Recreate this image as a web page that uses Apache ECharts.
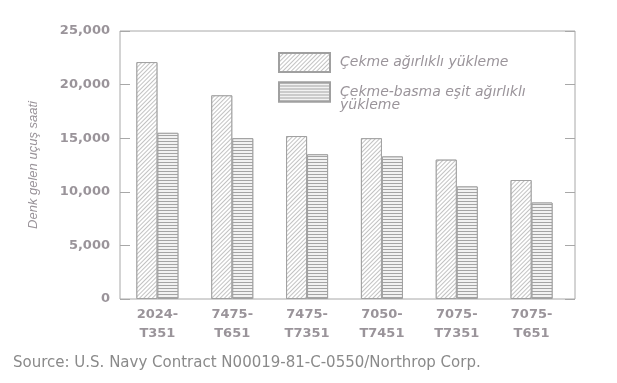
<!DOCTYPE html>
<html>
<head>
<meta charset="utf-8">
<script src="https://cdn.jsdelivr.net/npm/echarts@6/dist/echarts.min.js"></script>
<style>html,body{margin:0;padding:0;background:#fff;}#c{width:617px;height:383px;}</style>
</head>
<body>
<div id="c"></div>
<script>
const categories = ['2024-\nT351', '7475-\nT651', '7475-\nT7351', '7050-\nT7451', '7075-\nT7351', '7075-\nT651'];
const seriesNames = ['Çekme ağırlıklı yükleme', 'Çekme-basma eşit ağırlıklı\nyükleme'];
const tensionValues = [22100, 19000, 15200, 15000, 13000, 11100];
const equalValues = [15500, 15000, 13500, 13300, 10500, 9000];
const yTicks = { min: 0, max: 25000, interval: 5000 };
const yAxisName = 'Denk gelen uçuş saati';
const sourceText = 'Source: U.S. Navy Contract N00019-81-C-0550/Northrop Corp.';

const textGray = '#9a949a';
const lineGray = '#a8a8a8';
const font = 'DejaVu Sans, Liberation Sans, sans-serif';

const chart = echarts.init(document.getElementById('c'), null, { renderer: 'canvas' });

const hatchDecal = {
  symbol: 'rect', symbolSize: 1, color: '#c2c2c2', backgroundColor: '#ffffff',
  dashArrayX: [1, 0], dashArrayY: [1, 2], rotation: -Math.PI / 4
};
const lineDecal = {
  symbol: 'rect', symbolSize: 1, color: '#a4a4a4', backgroundColor: '#f2f2f2',
  dashArrayX: [1, 0], dashArrayY: [1, 2], rotation: 0
};

chart.setOption({
  animation: false,
  backgroundColor: '#ffffff',
  title: {
    text: sourceText, left: 8, top: 351,
    textStyle: { fontFamily: font, fontSize: 15, fontWeight: 'normal', color: '#8a8a8a' }
  },
  legend: {
    orient: 'vertical', left: 273, top: 47, itemWidth: 51, itemHeight: 19, itemGap: -1,
    icon: 'rect',
    formatter: name => (name === seriesNames[1] ? '\n' + name : name),
    textStyle: { fontFamily: font, fontSize: 14, fontStyle: 'italic', color: textGray, lineHeight: 13, padding: [0, 0, 0, 5] },
    data: seriesNames
  },
  grid: [
    { left: 120, right: 42, top: 31, bottom: 84, show: true, borderColor: lineGray, borderWidth: 1, backgroundColor: 'transparent' },
    { left: 120, right: 48, top: 31, bottom: 84 }
  ],
  xAxis: [
    { gridIndex: 0, type: 'value', show: false, min: 0, max: 1 },
    {
      gridIndex: 1, type: 'category', data: categories,
      axisLine: { show: false }, axisTick: { show: false },
      axisLabel: { fontFamily: font, fontSize: 13, fontWeight: 'bold', color: textGray, lineHeight: 19, margin: 6 }
    }
  ],
  yAxis: [
    {
      gridIndex: 0, type: 'value', min: yTicks.min, max: yTicks.max, interval: yTicks.interval,
      name: yAxisName, nameLocation: 'middle', nameGap: 80, nameRotate: 90,
      nameTextStyle: { fontFamily: 'Liberation Sans, Arial, sans-serif', fontSize: 13, fontStyle: 'italic', color: textGray },
      axisLine: { show: false },
      axisTick: { show: true, inside: true, length: 10, lineStyle: { color: lineGray } },
      splitLine: { show: false },
      axisLabel: {
        fontFamily: font, fontSize: 13, fontWeight: 'bold', color: textGray, margin: 10,
        formatter: v => v.toLocaleString('en-US')
      }
    },
    {
      gridIndex: 0, type: 'value', position: 'right', min: yTicks.min, max: yTicks.max, interval: yTicks.interval,
      axisLine: { show: false },
      axisTick: { show: true, inside: true, length: 10, lineStyle: { color: lineGray } },
      splitLine: { show: false }, axisLabel: { show: false }
    },
    {
      gridIndex: 1, type: 'value', min: yTicks.min, max: yTicks.max, interval: yTicks.interval, show: false,
      splitLine: { show: false }
    }
  ],
  series: [
    {
      name: seriesNames[0], type: 'bar', xAxisIndex: 1, yAxisIndex: 2, data: tensionValues,
      barWidth: 21, barGap: '0%',
      itemStyle: { color: '#ffffff', borderColor: '#a0a0a0', borderWidth: 1, decal: hatchDecal }
    },
    {
      name: seriesNames[1], type: 'bar', xAxisIndex: 1, yAxisIndex: 2, data: equalValues,
      barWidth: 21, barGap: '0%',
      itemStyle: { color: '#f2f2f2', borderColor: '#a0a0a0', borderWidth: 1, decal: lineDecal }
    }
  ]
});
</script>
</body>
</html>
